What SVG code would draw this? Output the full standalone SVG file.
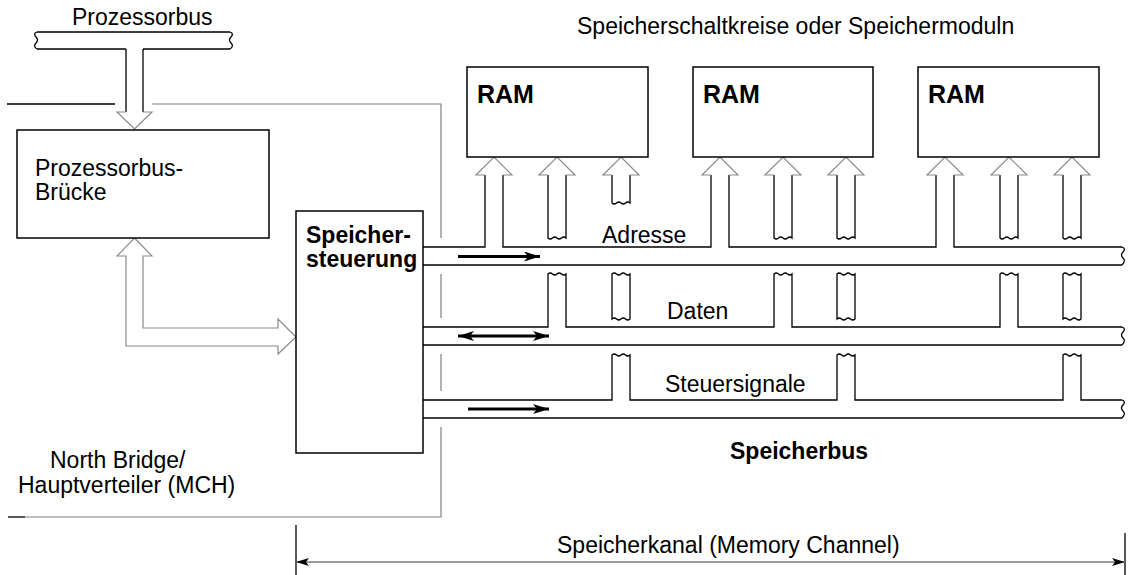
<svg xmlns="http://www.w3.org/2000/svg" width="1129" height="575" viewBox="0 0 1129 575">
<style>
  .ln{fill:none;stroke:#000;stroke-width:1.3}
  .gr{fill:none;stroke:#808080;stroke-width:1.2}
  .box{fill:#fff;stroke:#000;stroke-width:1.5}
  .hd{fill:#fff;stroke:#8a8a8a;stroke-width:1.2}
  .ba{fill:none;stroke:#000;stroke-width:3}
  .t{font-family:"Liberation Sans",Arial,Helvetica,sans-serif;font-size:23px;fill:#000}
  .b{font-weight:bold}
</style>
<defs>
  <marker id="ah" markerUnits="userSpaceOnUse" markerWidth="18" markerHeight="12" refX="16" refY="5" orient="auto-start-reverse">
    <path d="M0,0 L16,5 L0,10 L4,5 Z" fill="#000"/>
  </marker>
  <marker id="dh" markerUnits="userSpaceOnUse" markerWidth="14" markerHeight="10" refX="13" refY="4" orient="auto-start-reverse">
    <path d="M0,0 L13,4 L0,8 L3,4 Z" fill="#000"/>
  </marker>
</defs>
<rect width="1129" height="575" fill="#fff"/>

<text class="t" x="577" y="34">Speicherschaltkreise oder Speichermoduln</text>

<g id="connectors">
  <!-- Prozessorbus -->
  <path class="ln" d="M37,32 H230 M37,49 H126 M143,49 H230"/>
  <path class="ln" d="M37,32 c-3,1 -3,3 -1,5 c2,2 2,4 0,6 c-2,2 -2,4 1,6"/>
  <path class="ln" d="M230,32 c3,1 3,3 1,5 c-2,2 -2,4 0,6 c2,2 2,4 -1,6"/>
  <path class="ln" d="M126,49 V112 M143,49 V112"/>
  <path class="hd" d="M126,112 H117 L134.5,129 L152,112 H143"/>

  <!-- North Bridge boundary -->
  <path class="ln" d="M7,104 H115"/>
  <path class="gr" d="M152,104 H441 V238 M441,274 V318 M441,354 V391 M441,427 V517 H25"/>
  <path class="ln" d="M8,517 H25"/>

  <!-- Bridge to Speichersteuerung double arrow -->
  <path class="hd" d="M134.5,238 L152,256 H143 V328 H278 V319 L296,337 L278,354 V346 H126 V256 H117 Z"/>

  <!-- Adresse bus -->
  <path class="ln" d="M423,247 H485 V175 M503,175 V247 H711 V175 M729,175 V247 H936 V175 M954,175 V247 H1122"/>
  <path class="ln" d="M423,265 H1122"/>
  <path class="ln" d="M1122,247 c3,1 3,3 1,5 c-2,2 -2,4 0,6 c2,2 2,4 -1,7"/>
  <!-- Daten bus -->
  <path class="ln" d="M423,327 H548 V274 q2.25,-2 4.5,0 t4.5,0 t4.5,0 t4.5,0 V327 H774 V274 q2.25,-2 4.5,0 t4.5,0 t4.5,0 t4.5,0 V327 H1000 V274 q2.25,-2 4.5,0 t4.5,0 t4.5,0 t4.5,0 V327 H1122"/>
  <path class="ln" d="M423,345 H1122"/>
  <path class="ln" d="M1122,327 c3,1 3,3 1,5 c-2,2 -2,4 0,6 c2,2 2,4 -1,7"/>
  <!-- Steuer bus -->
  <path class="ln" d="M423,400 H612 V355 q2.25,-2 4.5,0 t4.5,0 t4.5,0 t4.5,0 V400 H837 V355 q2.25,-2 4.5,0 t4.5,0 t4.5,0 t4.5,0 V400 H1063 V355 q2.25,-2 4.5,0 t4.5,0 t4.5,0 t4.5,0 V400 H1122"/>
  <path class="ln" d="M423,418 H1122"/>
  <path class="ln" d="M1122,400 c3,1 3,3 1,5 c-2,2 -2,4 0,6 c2,2 2,4 -1,7"/>

  <!-- A2 shafts (Daten) -->
  <path class="ln" d="M548,175 V238 q2.25,2 4.5,0 t4.5,0 t4.5,0 t4.5,0 V175"/>
  <path class="ln" d="M774,175 V238 q2.25,2 4.5,0 t4.5,0 t4.5,0 t4.5,0 V175"/>
  <path class="ln" d="M1000,175 V238 q2.25,2 4.5,0 t4.5,0 t4.5,0 t4.5,0 V175"/>
  <!-- A3 shafts (Steuer) -->
  <path class="ln" d="M612,175 V203 q2.25,2 4.5,0 t4.5,0 t4.5,0 t4.5,0 V175"/>
  <path class="ln" d="M837,175 V238 q2.25,2 4.5,0 t4.5,0 t4.5,0 t4.5,0 V175"/>
  <path class="ln" d="M1063,175 V238 q2.25,2 4.5,0 t4.5,0 t4.5,0 t4.5,0 V175"/>
  <!-- A3 floating pieces -->
  <path class="ln" d="M612,274 q2.25,-2 4.5,0 t4.5,0 t4.5,0 t4.5,0 V319 q-2.25,2 -4.5,0 t-4.5,0 t-4.5,0 t-4.5,0 Z"/>
  <path class="ln" d="M837,274 q2.25,-2 4.5,0 t4.5,0 t4.5,0 t4.5,0 V319 q-2.25,2 -4.5,0 t-4.5,0 t-4.5,0 t-4.5,0 Z"/>
  <path class="ln" d="M1063,274 q2.25,-2 4.5,0 t4.5,0 t4.5,0 t4.5,0 V319 q-2.25,2 -4.5,0 t-4.5,0 t-4.5,0 t-4.5,0 Z"/>

  <!-- arrow heads into RAM -->
  <path class="hd" d="M485,175 H476 L494,157 L512,175 H503"/>
  <path class="hd" d="M548,175 H539 L557,157 L575,175 H566"/>
  <path class="hd" d="M612,175 H603 L621,157 L639,175 H630"/>
  <path class="hd" d="M711,175 H702 L720,157 L738,175 H729"/>
  <path class="hd" d="M774,175 H765 L783,157 L801,175 H792"/>
  <path class="hd" d="M837,175 H828 L846,157 L864,175 H855"/>
  <path class="hd" d="M936,175 H927 L945,157 L963,175 H954"/>
  <path class="hd" d="M1000,175 H991 L1009,157 L1027,175 H1018"/>
  <path class="hd" d="M1063,175 H1054 L1072,157 L1090,175 H1081"/>

  <!-- direction arrows -->
  <line class="ba" x1="458" y1="256.5" x2="540" y2="256.5" marker-end="url(#ah)"/>
  <line class="ba" x1="458" y1="336" x2="549" y2="336" marker-start="url(#ah)" marker-end="url(#ah)"/>
  <line class="ba" x1="468" y1="409" x2="549" y2="409" marker-end="url(#ah)"/>

  <!-- dimension -->
  <path class="ln" d="M296,525 V575 M1125,533 V575"/>
  <line x1="296" y1="562" x2="1125" y2="562" stroke="#7a7a7a" stroke-width="1.5" marker-start="url(#dh)" marker-end="url(#dh)"/>
</g>

<g id="prozessorbus-label">
  <text class="t" x="72" y="25">Prozessorbus</text>
</g>

<g id="bruecke">
  <rect class="box" x="17" y="130" width="252" height="108"/>
  <text class="t" x="35" y="176">Prozessorbus-</text>
  <text class="t" x="35" y="200">Brücke</text>
</g>

<g id="speichersteuerung">
  <rect class="box" x="296" y="211" width="127" height="242"/>
  <text class="t b" x="306" y="243">Speicher-</text>
  <text class="t b" x="306" y="267">steuerung</text>
</g>

<g id="ram1">
  <rect class="box" x="467" y="67" width="181" height="90"/>
  <text class="t b" x="477" y="103" style="font-size:25px">RAM</text>
</g>
<g id="ram2">
  <rect class="box" x="693" y="67" width="180" height="90"/>
  <text class="t b" x="703" y="103" style="font-size:25px">RAM</text>
</g>
<g id="ram3">
  <rect class="box" x="918" y="67" width="181" height="90"/>
  <text class="t b" x="928" y="103" style="font-size:25px">RAM</text>
</g>

<g id="labels">
  <text class="t" x="602" y="243">Adresse</text>
  <text class="t" x="667" y="319">Daten</text>
  <text class="t" x="665" y="392">Steuersignale</text>
  <text class="t b" x="730" y="459">Speicherbus</text>
  <text class="t" x="50" y="468">North Bridge/</text>
  <text class="t" x="18" y="493">Hauptverteiler (MCH)</text>
  <text class="t" x="557" y="553">Speicherkanal (Memory Channel)</text>
</g>
</svg>
